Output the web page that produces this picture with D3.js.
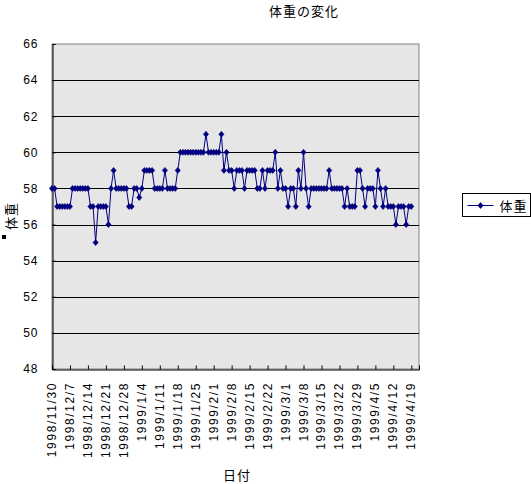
<!DOCTYPE html>
<html>
<head>
<meta charset="utf-8">
<script src="https://cdn.jsdelivr.net/npm/d3@7"></script>
<style>
  body { margin: 0; background: #fff; }
  text { font-family: "Liberation Sans", Arial, sans-serif; }
  .jp { font-family: "Noto Sans CJK JP", sans-serif; }
</style>
</head>
<body>
<div id="app"></div>
<script>
// daily weights, starting 1998/11/30
const startDate = "1998/11/30";
const endDate = "1999/4/22";
const weights = [
  58, 58, 57, 57, 57, 57, 57, 57, 58, 58,
  58, 58, 58, 58, 58, 57, 57, 55, 57, 57,
  57, 57, 56, 58, 59, 58, 58, 58, 58, 58,
  57, 57, 58, 58, 57.5, 58, 59, 59, 59, 59,
  58, 58, 58, 58, 59, 58, 58, 58, 58, 59,
  60, 60, 60, 60, 60, 60, 60, 60, 60, 60,
  61, 60, 60, 60, 60, 60, 61, 59, 60, 59,
  59, 58, 59, 59, 59, 58, 59, 59, 59, 59,
  58, 58, 59, 58, 59, 59, 59, 60, 58, 59,
  58, 58, 57, 58, 58, 57, 59, 58, 60, 58,
  57, 58, 58, 58, 58, 58, 58, 58, 59, 58,
  58, 58, 58, 58, 57, 58, 57, 57, 57, 59,
  59, 58, 57, 58, 58, 58, 57, 59, 58, 57,
  58, 57, 57, 57, 56, 57, 57, 57, 56, 57, 57
];
const tickLabels = [
  "1998/11/30", "1998/12/7", "1998/12/14", "1998/12/21", "1998/12/28",
  "1999/1/4", "1999/1/11", "1999/1/18", "1999/1/25", "1999/2/1",
  "1999/2/8", "1999/2/15", "1999/2/22", "1999/3/1", "1999/3/8",
  "1999/3/15", "1999/3/22", "1999/3/29", "1999/4/5", "1999/4/12", "1999/4/19"
];
const yTicks = [48, 50, 52, 54, 56, 58, 60, 62, 64, 66];
const seriesName = "体重";

const parse = d3.timeParse("%Y/%m/%d");
const fmt = d3.timeFormat("%Y/%-m/%-d");
const start = parse(startDate);
const data = weights.map((w, i) => ({ date: d3.timeDay.offset(start, i), value: w }));

const width = 531, height = 484;
const plot = { left: 52, right: 419, top: 44, bottom: 369 };
const navy = "#000080";

const svg = d3.select("#app").append("svg")
  .attr("width", width)
  .attr("height", height);

const x = d3.scaleTime()
  .domain([start, parse(endDate)])
  .range([plot.left, plot.right]);
const y = d3.scaleLinear()
  .domain([48, 66])
  .range([plot.bottom, plot.top]);

// plot background
svg.append("rect")
  .attr("x", plot.left).attr("y", plot.top)
  .attr("width", plot.right - plot.left).attr("height", plot.bottom - plot.top)
  .attr("fill", "#e6e6e6")
  .attr("stroke", "#808080");

// gridlines
svg.append("g")
  .selectAll("line")
  .data(yTicks.filter(v => v > 48 && v < 66))
  .join("line")
  .attr("x1", plot.left).attr("x2", plot.right)
  .attr("y1", d => Math.round(y(d)) + 0.5).attr("y2", d => Math.round(y(d)) + 0.5)
  .attr("stroke", "#000");

// y axis
const yAxis = svg.append("g")
  .attr("transform", `translate(${plot.left + 0.5},0)`)
  .call(d3.axisRight(y).tickValues(yTicks).tickSize(3).tickFormat(d3.format("d")));
yAxis.select(".domain").attr("stroke", "#000");
yAxis.selectAll("text")
  .attr("x", -14).attr("text-anchor", "end")
  .style("font-size", "12px").style("letter-spacing", "1px").attr("fill", "#000");

// x axis
const tickDates = tickLabels.map(parse);
const xAxis = svg.append("g")
  .attr("transform", `translate(0,${plot.bottom + 0.5})`)
  .call(d3.axisTop(x).tickValues(tickDates).tickSize(4).tickFormat(""));
xAxis.select(".domain").attr("stroke", "#000");
xAxis.selectAll(".tick line").attr("stroke", "#000");

svg.append("g")
  .selectAll("text")
  .data(tickDates)
  .join("text")
  .attr("transform", d => `translate(${x(d) + 4},${plot.bottom + 13}) rotate(-90)`)
  .attr("text-anchor", "end")
  .style("font-size", "12px")
  .style("letter-spacing", "1.6px")
  .text(d => fmt(d));

// series line
const line = d3.line().x(d => x(d.date)).y(d => y(d.value));
svg.append("path")
  .datum(data)
  .attr("d", line)
  .attr("fill", "none")
  .attr("stroke", navy)
  .attr("stroke-width", 1);

const diamond = "M0,-3L2.6,0L0,3L-2.6,0Z";
svg.append("g")
  .selectAll("path")
  .data(data)
  .join("path")
  .attr("d", diamond)
  .attr("transform", d => `translate(${x(d.date)},${y(d.value)})`)
  .attr("fill", navy)
  .attr("stroke", navy)
  .attr("stroke-width", 0.6);

// titles
svg.append("text").attr("class", "jp")
  .attr("x", 304).attr("y", 16)
  .attr("text-anchor", "middle")
  .style("font-size", "13px").style("letter-spacing", "1px")
  .text("体重の変化");

svg.append("text").attr("class", "jp")
  .attr("x", 237).attr("y", 480)
  .attr("text-anchor", "middle")
  .style("font-size", "13px").style("letter-spacing", "1px")
  .text("日付");

svg.append("text").attr("class", "jp")
  .attr("transform", "translate(16,216) rotate(-90)")
  .attr("text-anchor", "middle")
  .style("font-size", "13px").style("letter-spacing", "1px")
  .text(seriesName);

svg.append("rect")
  .attr("x", 2).attr("y", 235).attr("width", 4).attr("height", 4)
  .attr("fill", "#000");

// legend
const lg = svg.append("g").attr("transform", "translate(462.5,193.5)");
lg.append("rect")
  .attr("width", 68).attr("height", 23)
  .attr("fill", "#fff").attr("stroke", "#000");
lg.append("line")
  .attr("x1", 5).attr("x2", 31).attr("y1", 12).attr("y2", 12)
  .attr("stroke", navy);
lg.append("path")
  .attr("d", diamond)
  .attr("transform", "translate(18,12)")
  .attr("fill", navy).attr("stroke", navy).attr("stroke-width", 0.6);
lg.append("text").attr("class", "jp")
  .attr("x", 37).attr("y", 17)
  .style("font-size", "13px").style("letter-spacing", "1px")
  .text(seriesName);
</script>
</body>
</html>
